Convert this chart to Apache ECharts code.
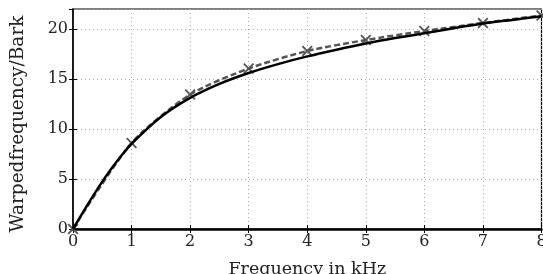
<!DOCTYPE html>
<html><head><meta charset="utf-8">
<script src="https://cdn.jsdelivr.net/npm/echarts@6/dist/echarts.min.js"></script>
<style>html,body{margin:0;padding:0;background:#fff}#c{width:543px;height:274px}</style>
</head><body><div id="c"></div>
<script>
// Solid curve: frequency in kHz, warped frequency in Bark
const curveFreq = [0,0.25,0.5,0.75,1,1.5,2,2.5,3,3.5,4,4.5,5,5.5,6,6.5,7,7.5,8];
const curveBark = [0,2.44,4.74,6.77,8.51,11.2,13.11,14.51,15.6,16.49,17.26,17.93,18.55,19.09,19.57,20.08,20.55,20.91,21.28];
// Dashed series with x markers
const markFreq = [0,1,2,3,4,5,6,7,8];
const markBark = [0,8.6,13.45,16.05,17.8,18.9,19.8,20.6,21.35];
const xTicks = [0,1,2,3,4,5,6,7,8];
const yTicks = [0,5,10,15,20];
const yTitle = 'Warpedfrequency/Bark';
const xTitle = 'Frequency in kHz';

const font = '"DejaVu Serif","Liberation Serif",serif';
const chart = echarts.init(document.getElementById('c'));
const xPath = 'path://M0,1.2L1.2,0L5,3.8L8.8,0L10,1.2L6.2,5L10,8.8L8.8,10L5,6.2L1.2,10L0,8.8L3.8,5Z';
chart.setOption({
  animation:false,
  grid:{left:73,right:1.5,top:9,bottom:45,show:true,borderColor:'#000',borderWidth:1.2,
    containLabel:false,outerBoundsMode:'none'},
  graphic:[{type:'text',x:18,y:124,rotation:Math.PI/2,
    style:{text:yTitle,font:'18.5px '+font,fill:'#222',align:'center',verticalAlign:'middle'}}],
  xAxis:[{type:'value',min:xTicks[0],max:xTicks[xTicks.length-1],interval:1,
    name:xTitle,nameLocation:'middle',nameGap:31,
    nameTextStyle:{fontFamily:font,fontSize:17.5,color:'#222'},
    axisLine:{show:true,lineStyle:{color:'#000',width:2.5}},
    axisTick:{show:true,inside:true,length:4,lineStyle:{color:'#000'}},
    axisLabel:{fontFamily:font,fontSize:16,color:'#222',margin:5},
    splitLine:{show:true,lineStyle:{color:'#aaa',type:[1,3],width:1}}},
   {type:'value',position:'top',min:0,max:8,interval:1,
    axisLine:{show:false},axisLabel:{show:false},splitLine:{show:false},
    axisTick:{show:true,inside:true,length:4,lineStyle:{color:'#000'}}}],
  yAxis:[{type:'value',min:0,max:22,interval:5,
    axisLine:{show:true,lineStyle:{color:'#000',width:1.5}},
    axisTick:{show:true,inside:true,length:4,lineStyle:{color:'#000'}},
    axisLabel:{fontFamily:font,fontSize:16,color:'#222',margin:5,showMaxLabel:false},
    splitLine:{show:true,lineStyle:{color:'#aaa',type:[1,3],width:1}}},
   {type:'value',position:'right',min:0,max:22,interval:5,
    axisLine:{show:false},axisLabel:{show:false},splitLine:{show:false},
    axisTick:{show:true,inside:true,length:4,lineStyle:{color:'#000'}}}],
  series:[
    {type:'line',data:markFreq.map((f,i)=>[f,markBark[i]]),smooth:0.25,
     lineStyle:{color:'#555',width:2.5,type:[6,3]},
     symbol:xPath,symbolSize:11,itemStyle:{color:'#555'},z:2},
    {type:'line',data:curveFreq.map((f,i)=>[f,curveBark[i]]),smooth:0.3,
     lineStyle:{color:'#000',width:2.5},showSymbol:false,symbol:'none',z:3}
  ]
});
</script></body></html>
